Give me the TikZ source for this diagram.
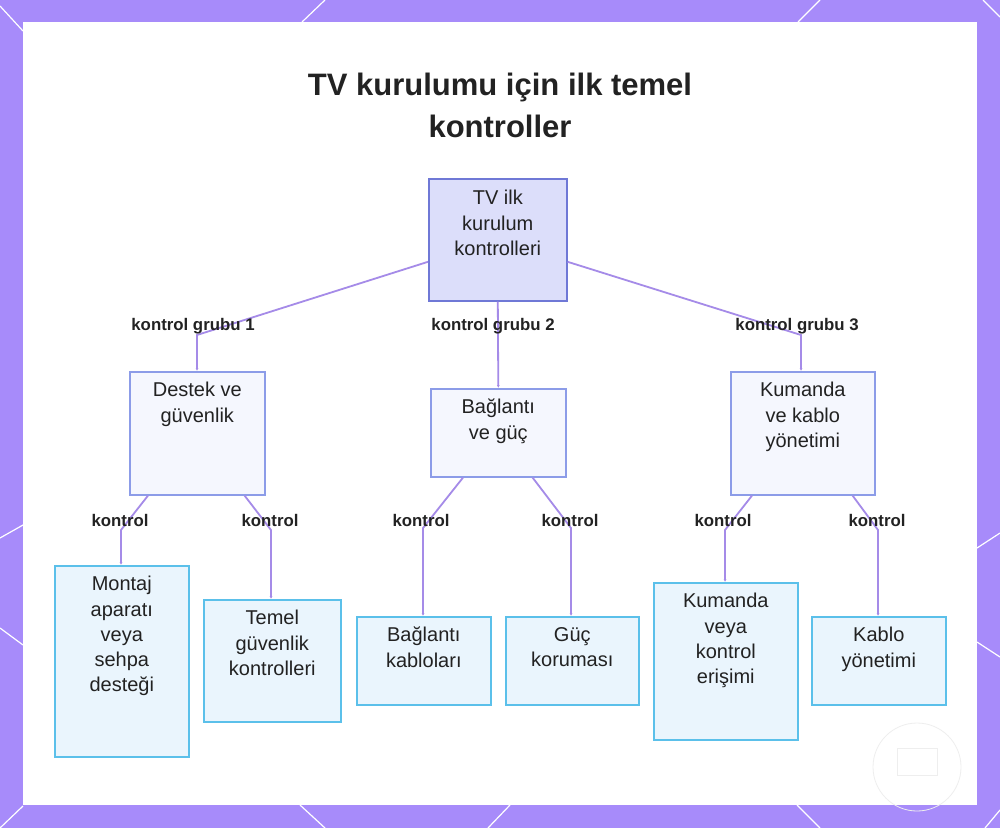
\documentclass[tikz,border=0pt]{standalone}
\usepackage{fontspec}
\setmainfont{Liberation Sans}
\usetikzlibrary{arrows.meta}
\definecolor{framepurple}{HTML}{A78BFA}
\definecolor{edgecol}{HTML}{A58BE8}
\definecolor{rootfill}{HTML}{DCDEFA}
\definecolor{rootdraw}{HTML}{6F78D6}
\definecolor{midfill}{HTML}{F5F7FE}
\definecolor{middraw}{HTML}{8C9CE8}
\definecolor{leaffill}{HTML}{EAF5FD}
\definecolor{leafdraw}{HTML}{5BC0EA}
\definecolor{txtcol}{HTML}{222222}
\definecolor{faint}{HTML}{EEEEEE}
\begin{document}
\begin{tikzpicture}[x=1pt,y=-1pt,
  rootbox/.style={draw=rootdraw,fill=rootfill,line width=1.6pt,inner sep=0,anchor=north west},
  midbox/.style={draw=middraw,fill=midfill,line width=1.6pt,inner sep=0,anchor=north west},
  leafbox/.style={draw=leafdraw,fill=leaffill,line width=1.6pt,inner sep=0,anchor=north west},
  boxtxt/.style={anchor=north,inner sep=0,align=center,text=txtcol,font=\fontsize{20}{25.3}\selectfont},
  lbl/.style={inner sep=0,text=txtcol,font=\bfseries\fontsize{16.8}{20}\selectfont},
  edge/.style={draw=edgecol,line width=1.8pt,-{Latex[length=3pt,width=3pt]}},
  deco/.style={draw=white,line width=1.2pt}]
\useasboundingbox (0,0) rectangle (1000,828);
% frame
\fill[framepurple] (0,0) rectangle (1000,828);
\fill[white] (23,22) rectangle (977,805);
\draw[deco] (0,6) -- (23,31);
\draw[deco] (302,22) -- (325,0);
\draw[deco] (798,22) -- (820,0);
\draw[deco] (983,0) -- (1000,17);
\draw[deco] (0,538) -- (23,525);
\draw[deco] (0,628) -- (23,645);
\draw[deco] (977,548) -- (1000,533);
\draw[deco] (977,642) -- (1000,657);
\draw[deco] (0,828) -- (23,806);
\draw[deco] (300,805) -- (325,828);
\draw[deco] (488,828) -- (510,805);
\draw[deco] (797,805) -- (820,828);
\draw[deco] (985,828) -- (1000,810);
% faint watermark
\draw[faint,line width=0.8pt] (917,767) circle (44);
\draw[faint,line width=0.8pt] (897,748) rectangle (937,775);
% title
\node[inner sep=0,align=center,text=txtcol,font=\bfseries\fontsize{31}{42}\selectfont] (title) at (500,105) {TV kurulumu için ilk temel\\kontroller};
% boxes
\node[rootbox,minimum width=138pt,minimum height=122pt] (root) at (428,178) {};
\node[midbox,minimum width=135pt,minimum height=123pt] (destek) at (129,371) {};
\node[midbox,minimum width=135pt,minimum height=88pt] (bag) at (430,388) {};
\node[midbox,minimum width=144pt,minimum height=123pt] (kum) at (730,371) {};
\node[leafbox,minimum width=134pt,minimum height=191pt] (montaj) at (54,565) {};
\node[leafbox,minimum width=137pt,minimum height=122pt] (temel) at (203,599) {};
\node[leafbox,minimum width=134pt,minimum height=88pt] (kablolar) at (356,616) {};
\node[leafbox,minimum width=133pt,minimum height=88pt] (guc) at (505,616) {};
\node[leafbox,minimum width=144pt,minimum height=157pt] (erisim) at (653,582) {};
\node[leafbox,minimum width=134pt,minimum height=88pt] (kablo) at (811,616) {};
% box texts
\node[boxtxt] (roott) at ([yshift=-12pt]root.north) {TV ilk\\kurulum\\kontrolleri};
\node[boxtxt] (destekt) at ([yshift=-11pt]destek.north) {Destek ve\\güvenlik};
\node[boxtxt] (bagt) at ([yshift=-11pt]bag.north) {Bağlantı\\ve güç};
\node[boxtxt] (kumt) at ([yshift=-11pt]kum.north) {Kumanda\\ve kablo\\yönetimi};
\node[boxtxt] (montajt) at ([yshift=-11pt]montaj.north) {Montaj\\aparatı\\veya\\sehpa\\desteği};
\node[boxtxt] (temelt) at ([yshift=-11pt]temel.north) {Temel\\güvenlik\\kontrolleri};
\node[boxtxt] (kablolart) at ([yshift=-11pt]kablolar.north) {Bağlantı\\kabloları};
\node[boxtxt] (guct) at ([yshift=-11pt]guc.north) {Güç\\koruması};
\node[boxtxt] (erisimt) at ([yshift=-11pt]erisim.north) {Kumanda\\veya\\kontrol\\erişimi};
\node[boxtxt] (koblot) at ([yshift=-11pt]kablo.north) {Kablo\\yönetimi};
% bend points
\coordinate (g1) at (197,335);
\coordinate (g3) at (801,335);
\coordinate (c1) at (121,530);
\coordinate (c2) at (271,530);
\coordinate (c3) at (423,528);
\coordinate (c4) at (571,528);
\coordinate (c5) at (725,530);
\coordinate (c6) at (878,530);
% edges
\draw[edge] ([yshift=-22pt]root.west) -- (g1) -- (g1 |- destek.north);
\draw[edge] (root.south) -- (bag.north);
\draw[edge] ([yshift=-22pt]root.east) -- (g3) -- (g3 |- kum.north);
\draw[edge] ([xshift=19pt]destek.south west) -- (c1) -- (c1 |- montaj.north);
\draw[edge] ([xshift=-21pt]destek.south east) -- (c2) -- (c2 |- temel.north);
\draw[edge] ([xshift=33pt]bag.south west) -- (c3) -- (c3 |- kablolar.north);
\draw[edge] ([xshift=-34pt]bag.south east) -- (c4) -- (c4 |- guc.north);
\draw[edge] ([xshift=22pt]kum.south west) -- (c5) -- (c5 |- erisim.north);
\draw[edge] ([xshift=-23pt]kum.south east) -- (c6) -- (c6 |- kablo.north);
% labels
\node[lbl] (lg1) at (193,326) {kontrol grubu 1};
\node[lbl] (lg2) at (493,326) {kontrol grubu 2};
\node[lbl] (lg3) at (797,326) {kontrol grubu 3};
\node[lbl] (l1) at (120,520) {kontrol};
\node[lbl] (l2) at (270,520) {kontrol};
\node[lbl] (l3) at (421,520) {kontrol};
\node[lbl] (l4) at (570,520) {kontrol};
\node[lbl] (l5) at (723,520) {kontrol};
\node[lbl] (l6) at (877,520) {kontrol};
\end{tikzpicture}
\end{document}
